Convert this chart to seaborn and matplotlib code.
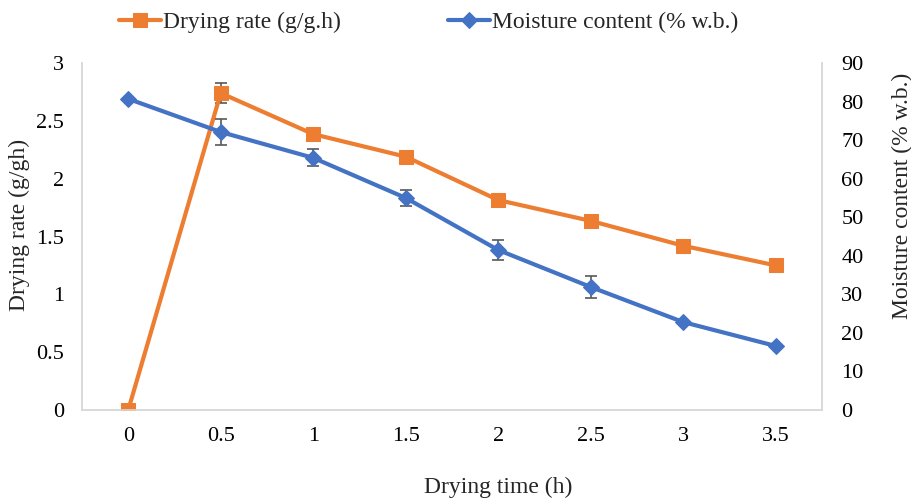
import matplotlib
matplotlib.use("Agg")
import matplotlib.pyplot as plt
import numpy as np
import pandas as pd
import seaborn as sns

sns.set_theme(style="white")
plt.rcParams['font.family'] = ['Liberation Serif', 'DejaVu Serif']

# data
time_labels = ['0', '0.5', '1', '1.5', '2', '2.5', '3', '3.5']
drying_rate = [0.0, 2.74, 2.385, 2.19, 1.815, 1.635, 1.42, 1.25]
drying_rate_err = [0, 0.09, 0, 0, 0, 0, 0, 0]
moisture = [80.7, 72.1, 65.4, 55.0, 41.5, 31.9, 22.8, 16.6]
moisture_err = [0, 3.4, 2.2, 2.1, 2.6, 2.8, 0, 0]

ORANGE = '#ED7D31'
BLUE = '#4472C4'
ERRC = '#595959'

df = pd.DataFrame({'pos': np.arange(len(time_labels)),
                   'rate': drying_rate, 'mc': moisture})

fig = plt.figure(figsize=(9.12, 5), dpi=100)
ax = fig.add_axes([0.0899, 0.18, 0.8114, 0.694])
ax2 = ax.twinx()

ax.errorbar(df['pos'], df['rate'], yerr=drying_rate_err, fmt='none',
            ecolor=ERRC, elinewidth=1.2, capsize=4, capthick=1.2, zorder=3)
sns.lineplot(data=df, x='pos', y='rate', ax=ax, color=ORANGE, lw=3,
             marker='s', markersize=10, markeredgecolor=ORANGE, zorder=4,
             label='Drying rate (g/g.h)', legend=False)

ax2.errorbar(df['pos'], df['mc'], yerr=moisture_err, fmt='none',
             ecolor=ERRC, elinewidth=1.2, capsize=4, capthick=1.2, zorder=3)
sns.lineplot(data=df, x='pos', y='mc', ax=ax2, color=BLUE, lw=3,
             marker='D', markersize=8, markeredgecolor=BLUE, zorder=4,
             label='Moisture content (% w.b.)', legend=False)

ax.set_xlim(-0.5, len(time_labels) - 0.5)
ax.set_xticks(df['pos'])
ax.set_xticklabels(time_labels)
ax.set_ylim(0, 3)
ax.set_yticks(np.arange(0, 3.01, 0.5))
ax.set_yticklabels(['0', '0.5', '1', '1.5', '2', '2.5', '3'])
ax2.set_ylim(0, 90)
ax2.set_yticks(np.arange(0, 91, 10))

for a in (ax, ax2):
    a.tick_params(length=0, labelsize=16, colors='#000000')
    a.spines['top'].set_visible(False)
    for s in ('left', 'right', 'bottom'):
        a.spines[s].set_color('#D9D9D9')
        a.spines[s].set_linewidth(1.2)
ax.tick_params(axis='y', pad=13)
ax.tick_params(axis='x', pad=12)
ax2.tick_params(axis='y', pad=14)

ax.set_xlabel('Drying time (h)', fontsize=17)
ax.set_ylabel('Drying rate (g/gh)', fontsize=17)
ax2.set_ylabel('Moisture content (% w.b.)', fontsize=17)
ax.xaxis.set_label_coords(0.562, -0.192)
ax.yaxis.set_label_coords(-0.07, 0.533)
ax2.yaxis.set_label_coords(1.094, 0.617)

h1, l1 = ax.get_legend_handles_labels()
h2, l2 = ax2.get_legend_handles_labels()
fig.legend(h1 + h2, l1 + l2, loc='center', bbox_to_anchor=(0.47, 0.955),
           ncol=2, frameon=False, fontsize=17, columnspacing=4.5,
           handlelength=1.8, handletextpad=0.1)

fig.savefig('out.png', dpi=100)
